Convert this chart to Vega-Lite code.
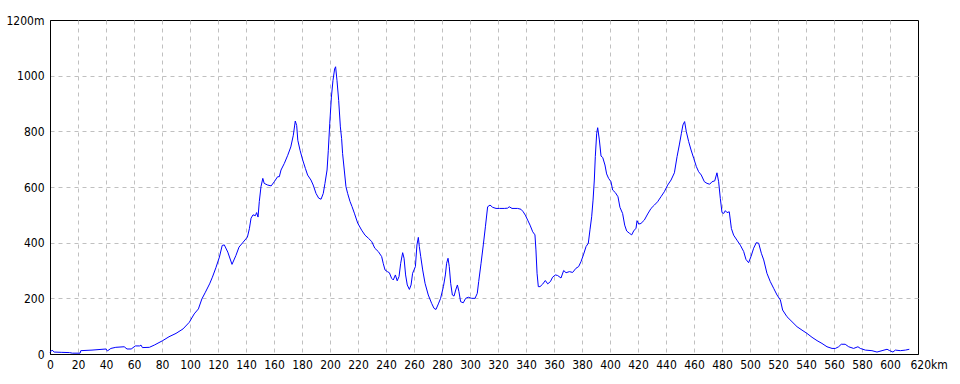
{
  "$schema": "https://vega.github.io/schema/vega-lite/v6.json",
  "width": 868,
  "height": 334,
  "autosize": {"type": "none"},
  "padding": {"left": 50, "top": 20, "right": 42, "bottom": 30},
  "background": "white",
  "config": {
    "view": {"stroke": "black", "strokeWidth": 1},
    "axis": {
      "labelFont": "Liberation Sans Narrow, DejaVu Sans Condensed, sans-serif",
      "labelFontSize": 12,
      "labelColor": "black",
      "domainColor": "black",
      "domainWidth": 1,
      "gridColor": "#c0c0c0",
      "gridDash": [4, 4],
      "gridWidth": 1,
      "ticks": false,
      "title": null,
      "labelFlush": false,
      "labelOverlap": false
    }
  },
  "data": {"values": [
    {"km":0,"elev":6},{"km":1.5,"elev":14},{"km":3,"elev":7},{"km":8,"elev":6},{"km":14,"elev":5},{"km":16,"elev":3},{"km":21.5,"elev":3},{"km":22,"elev":12},{"km":30,"elev":14},{"km":40,"elev":18},{"km":41,"elev":11},{"km":43.5,"elev":20},{"km":47,"elev":24},{"km":53,"elev":26},{"km":55,"elev":18},{"km":58,"elev":18},{"km":61,"elev":29},{"km":64,"elev":29},{"km":65,"elev":32},{"km":66,"elev":23},{"km":71,"elev":24},{"km":74.5,"elev":32},{"km":80.5,"elev":48},{"km":85,"elev":62},{"km":90,"elev":74},{"km":95,"elev":90},{"km":99.5,"elev":114},{"km":103,"elev":144},{"km":106,"elev":162},{"km":108.5,"elev":198},{"km":111,"elev":222},{"km":114,"elev":252},{"km":116,"elev":276},{"km":118.5,"elev":310},{"km":121,"elev":348},{"km":123,"elev":390},{"km":124.5,"elev":392},{"km":127,"elev":366},{"km":130,"elev":322},{"km":132.8,"elev":354},{"km":135,"elev":384},{"km":138,"elev":402},{"km":141,"elev":420},{"km":142.4,"elev":450},{"km":143.6,"elev":488},{"km":145,"elev":500},{"km":146.7,"elev":497},{"km":147.6,"elev":508},{"km":148.6,"elev":492},{"km":149.5,"elev":548},{"km":150.7,"elev":601},{"km":152,"elev":631},{"km":153,"elev":613},{"km":155.5,"elev":607},{"km":158,"elev":604},{"km":160.2,"elev":619},{"km":162.6,"elev":637},{"km":163.8,"elev":637},{"km":165,"elev":661},{"km":167.4,"elev":685},{"km":169.8,"elev":714},{"km":172,"elev":744},{"km":173.8,"elev":786},{"km":175.2,"elev":837},{"km":176.2,"elev":821},{"km":177,"elev":768},{"km":178.6,"elev":732},{"km":180.5,"elev":697},{"km":182.4,"elev":667},{"km":184,"elev":643},{"km":186.4,"elev":625},{"km":188,"elev":607},{"km":190,"elev":577},{"km":191.9,"elev":560},{"km":193.6,"elev":556},{"km":195.2,"elev":577},{"km":196.4,"elev":613},{"km":197.9,"elev":661},{"km":198.8,"elev":732},{"km":199.8,"elev":827},{"km":201,"elev":923},{"km":202.1,"elev":982},{"km":203.3,"elev":1024},{"km":204,"elev":1032},{"km":205,"elev":982},{"km":206.2,"elev":911},{"km":207.4,"elev":816},{"km":208.3,"elev":774},{"km":209,"elev":720},{"km":210.2,"elev":661},{"km":211.4,"elev":601},{"km":212.6,"elev":577},{"km":214.3,"elev":548},{"km":215.7,"elev":530},{"km":217.4,"elev":506},{"km":219.8,"elev":470},{"km":222.6,"elev":445},{"km":225,"elev":427},{"km":227.4,"elev":416},{"km":229.8,"elev":404},{"km":232,"elev":380},{"km":234.5,"elev":368},{"km":236.9,"elev":350},{"km":238,"elev":326},{"km":239.3,"elev":302},{"km":241,"elev":296},{"km":242.4,"elev":292},{"km":244,"elev":272},{"km":245.2,"elev":266},{"km":246.7,"elev":284},{"km":248,"elev":263},{"km":249.3,"elev":278},{"km":250.5,"elev":326},{"km":251.9,"elev":364},{"km":252.9,"elev":344},{"km":254,"elev":284},{"km":255.2,"elev":248},{"km":256.7,"elev":232},{"km":257.9,"elev":248},{"km":259,"elev":290},{"km":260,"elev":302},{"km":261,"elev":314},{"km":262.1,"elev":392},{"km":263.1,"elev":419},{"km":263.8,"elev":386},{"km":264.8,"elev":350},{"km":266.2,"elev":302},{"km":267.9,"elev":254},{"km":270.2,"elev":212},{"km":272.6,"elev":182},{"km":274.3,"elev":164},{"km":275.7,"elev":160},{"km":277.4,"elev":180},{"km":279,"elev":200},{"km":281,"elev":242},{"km":282.4,"elev":284},{"km":283.3,"elev":326},{"km":284.3,"elev":344},{"km":285.2,"elev":314},{"km":286.2,"elev":254},{"km":287.4,"elev":212},{"km":288.6,"elev":208},{"km":289.8,"elev":230},{"km":291,"elev":248},{"km":292.1,"elev":224},{"km":293.3,"elev":188},{"km":295.2,"elev":184},{"km":296.9,"elev":200},{"km":298.8,"elev":204},{"km":301.2,"elev":200},{"km":303.6,"elev":200},{"km":305.2,"elev":218},{"km":306.2,"elev":260},{"km":307.9,"elev":326},{"km":309.5,"elev":392},{"km":311,"elev":457},{"km":312.6,"elev":529},{"km":314.3,"elev":535},{"km":316.2,"elev":527},{"km":318.6,"elev":523},{"km":321,"elev":523},{"km":324.5,"elev":523},{"km":326.9,"elev":524},{"km":328,"elev":529},{"km":330,"elev":523},{"km":334,"elev":523},{"km":336.4,"elev":520},{"km":338,"elev":511},{"km":339.5,"elev":499},{"km":341.2,"elev":481},{"km":342.9,"elev":463},{"km":344.8,"elev":439},{"km":346.4,"elev":428},{"km":347.1,"elev":374},{"km":347.9,"elev":290},{"km":348.8,"elev":242},{"km":350,"elev":242},{"km":351.9,"elev":251},{"km":353.8,"elev":264},{"km":355.5,"elev":252},{"km":357.4,"elev":260},{"km":359,"elev":276},{"km":361,"elev":284},{"km":362.6,"elev":282},{"km":365,"elev":273},{"km":366.9,"elev":300},{"km":368.6,"elev":292},{"km":371,"elev":296},{"km":373.3,"elev":293},{"km":375.7,"elev":308},{"km":377.6,"elev":314},{"km":379.3,"elev":332},{"km":381,"elev":356},{"km":382.9,"elev":386},{"km":384.5,"elev":398},{"km":385.7,"elev":446},{"km":386.9,"elev":493},{"km":387.9,"elev":553},{"km":388.8,"elev":625},{"km":389.5,"elev":709},{"km":390.5,"elev":793},{"km":391.2,"elev":813},{"km":392.4,"elev":769},{"km":393.6,"elev":711},{"km":394.8,"elev":706},{"km":396.4,"elev":679},{"km":397.6,"elev":647},{"km":399,"elev":631},{"km":400.7,"elev":619},{"km":401.9,"elev":589},{"km":403.8,"elev":580},{"km":405.7,"elev":565},{"km":407.1,"elev":527},{"km":409,"elev":505},{"km":410.5,"elev":463},{"km":411.9,"elev":442},{"km":413.8,"elev":434},{"km":415.5,"elev":428},{"km":416.9,"elev":442},{"km":418.6,"elev":452},{"km":419.3,"elev":479},{"km":420.5,"elev":467},{"km":422.1,"elev":469},{"km":424.5,"elev":481},{"km":426.9,"elev":503},{"km":429.3,"elev":523},{"km":431.7,"elev":535},{"km":434,"elev":547},{"km":436.4,"elev":565},{"km":438.8,"elev":583},{"km":441.2,"elev":607},{"km":443.6,"elev":625},{"km":446,"elev":651},{"km":447.9,"elev":709},{"km":449.5,"elev":751},{"km":451,"elev":793},{"km":452.1,"elev":823},{"km":453.3,"elev":835},{"km":454.5,"elev":799},{"km":456.2,"elev":763},{"km":457.9,"elev":733},{"km":459.8,"elev":703},{"km":461.7,"elev":673},{"km":463.3,"elev":655},{"km":465.2,"elev":643},{"km":467.4,"elev":619},{"km":469.3,"elev":613},{"km":471.2,"elev":610},{"km":472.9,"elev":619},{"km":474.8,"elev":622},{"km":476.4,"elev":651},{"km":477.6,"elev":619},{"km":478.8,"elev":559},{"km":480,"elev":508},{"km":481.2,"elev":505},{"km":482.4,"elev":515},{"km":483.6,"elev":508},{"km":485.2,"elev":511},{"km":486.7,"elev":451},{"km":488.3,"elev":427},{"km":490.7,"elev":409},{"km":493.1,"elev":391},{"km":495.5,"elev":368},{"km":497.1,"elev":340},{"km":499,"elev":328},{"km":500.7,"elev":350},{"km":502.6,"elev":380},{"km":504.5,"elev":400},{"km":506.2,"elev":398},{"km":508.1,"elev":362},{"km":509.8,"elev":338},{"km":512.1,"elev":290},{"km":514.5,"elev":260},{"km":516.9,"elev":236},{"km":519.3,"elev":212},{"km":521.7,"elev":194},{"km":523.3,"elev":158},{"km":526.4,"elev":134},{"km":530,"elev":116},{"km":533.6,"elev":98},{"km":537.1,"elev":86},{"km":540.7,"elev":74},{"km":544.3,"elev":60},{"km":547.9,"elev":48},{"km":551.4,"elev":38},{"km":555,"elev":26},{"km":558.6,"elev":20},{"km":561,"elev":20},{"km":563.3,"elev":26},{"km":565.2,"elev":35},{"km":568,"elev":35},{"km":570.5,"elev":26},{"km":574,"elev":20},{"km":577.1,"elev":26},{"km":578.8,"elev":20},{"km":582.4,"elev":14},{"km":587.1,"elev":12},{"km":590.7,"elev":7},{"km":594.3,"elev":12},{"km":597.9,"elev":17},{"km":599.8,"elev":12},{"km":602.1,"elev":7},{"km":603.8,"elev":14},{"km":607.4,"elev":12},{"km":611,"elev":14},{"km":613.8,"elev":17}
  ]},
  "mark": {"type": "line", "color": "#0000ff", "strokeWidth": 1},
  "encoding": {
    "x": {
      "field": "km",
      "type": "quantitative",
      "scale": {"domain": [0, 620], "nice": false},
      "axis": {
        "values": [0,20,40,60,80,100,120,140,160,180,200,220,240,260,280,300,320,340,360,380,400,420,440,460,480,500,520,540,560,580,600,620],
        "format": "d",
        "labelExpr": "datum.value == 620 ? '620km' : datum.label",
        "labelPadding": 5,
        "gridOpacity": {"condition": {"test": "datum.value == 0 || datum.value == 620", "value": 0}, "value": 1},
        "labelAlign": {"condition": {"test": "datum.value == 620", "value": "left"}, "value": "center"},
        "labelOffset": {"condition": {"test": "datum.value == 620", "value": -8}, "value": 0}
      }
    },
    "y": {
      "field": "elev",
      "type": "quantitative",
      "scale": {"domain": [0, 1200], "nice": false},
      "axis": {
        "values": [0,200,400,600,800,1000,1200],
        "format": "d",
        "labelExpr": "datum.value == 1200 ? '1200m' : datum.label",
        "gridOpacity": {"condition": {"test": "datum.value == 0 || datum.value == 1200", "value": 0}, "value": 1},
        "labelPadding": 6
      }
    }
  }
}
